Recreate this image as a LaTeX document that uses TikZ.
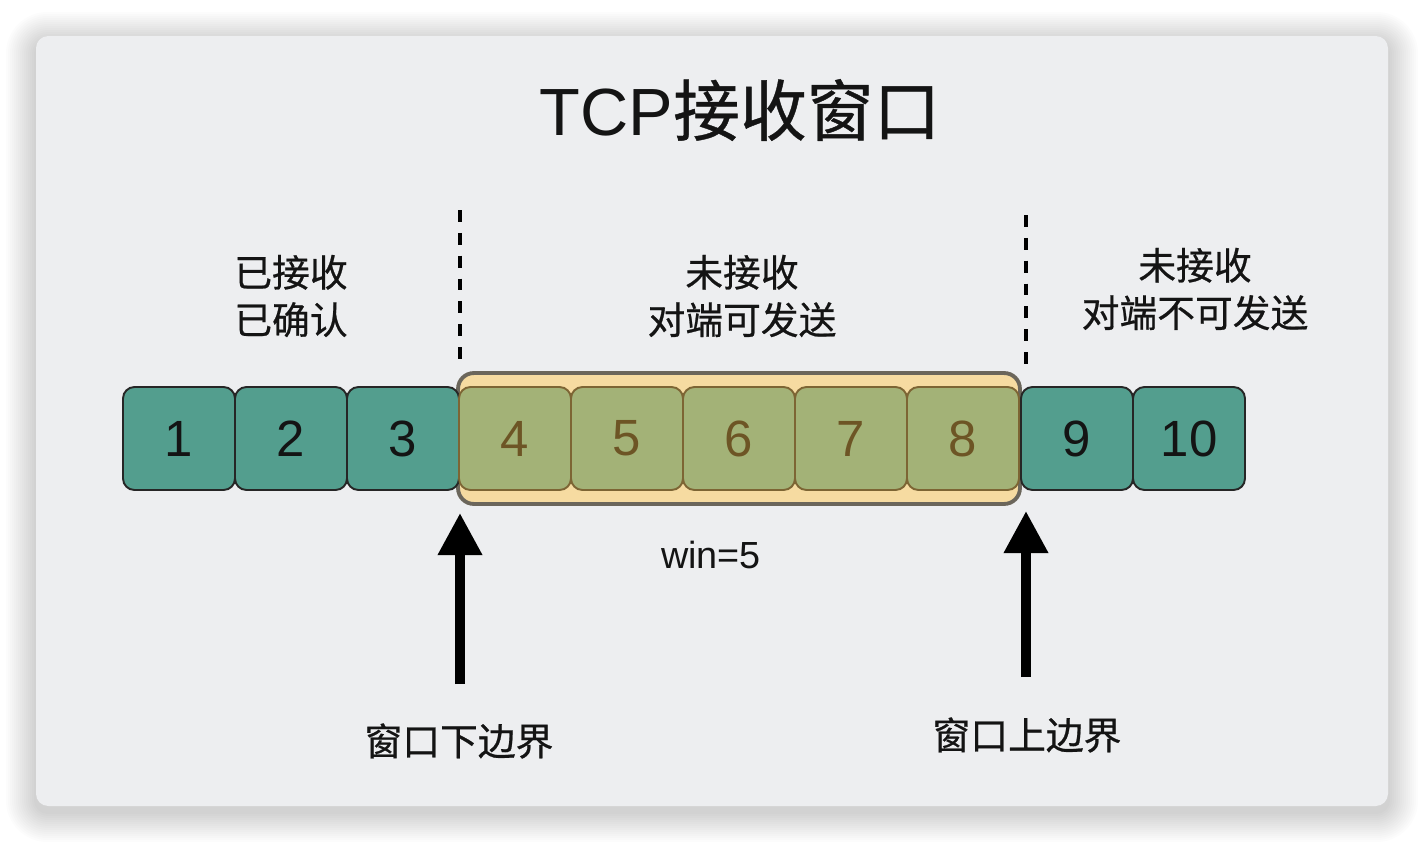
\documentclass[tikz,border=0pt]{standalone}
\usepackage{fontspec}
\setmainfont{Liberation Sans}
\newfontfamily\cjk{Noto Sans CJK SC}[FakeBold=0.6]
\usetikzlibrary{arrows.meta,backgrounds,fit,positioning}
\definecolor{rwCard}{HTML}{EDEEF0}
\definecolor{rwTeal}{HTML}{539E8E}
\definecolor{rwOlive}{HTML}{A3B277}
\definecolor{rwOliveLine}{HTML}{7D6534}
\definecolor{rwOliveText}{HTML}{6D5525}
\definecolor{rwWin}{HTML}{F6DBA1}
\definecolor{rwWinLine}{HTML}{6B665B}

\begin{document}
\begin{tikzpicture}[
  x=0.02cm,y=-0.02cm,
  every node/.style={font=\fontsize{21.5}{27}\selectfont,align=center,text=black!92},
  cell/.style={draw=black!85,line width=1.1pt,fill=rwTeal,rounded corners=6.5pt,
    minimum width=2.24cm,minimum height=2.06cm,inner sep=0pt,
    font=\fontsize{29}{30}\selectfont},
  wincell/.style={cell,draw=rwOliveLine,fill=rwOlive,text=rwOliveText},
  window/.style={draw=rwWinLine,line width=2.2pt,fill=rwWin,rounded corners=9pt,
    inner xsep=0pt,inner ysep=7.4pt},
  bound/.style={line width=2.4pt,dash pattern=on 6.8pt off 6.2pt},
  pointer/.style={-{Triangle[length=24pt,width=24pt]},line width=5.6pt}
]
  \useasboundingbox (0,0) rectangle (1424,842);
  % card and its soft shadow
  \begin{scope}[on background layer]
    \foreach \k [evaluate=\k as \r using 7+1.1*\k] in {1,...,15}
      \fill[black,opacity=0.013,rounded corners=\r pt]
        (36-2*\k,42-2*\k) rectangle (1388+2*\k,812+2*\k);
    \fill[rwCard,rounded corners=7pt] (36,36) rectangle (1388,806);
  \end{scope}

  \node[font=\fontsize{38}{40}\selectfont] (title) at (740,110) {TCP{\cjk 接收窗口}};

  % segments
  \foreach \n/\x in {1/179,2/291,3/403}
    \node[cell] (b\n) at (\x,438.5) {\n};
  \foreach \n/\x in {4/515,5/627,6/739,7/851,8/963}
    \node[wincell] (b\n) at (\x,438.5) {\n};
  \foreach \n/\x in {9/1077,10/1189}
    \node[cell] (b\n) at (\x,438.5) {\n};

  \begin{scope}[on background layer]
    \node[window,fit=(b4)(b8)] (win) {};
  \end{scope}

  \draw[bound] (460,210) -- (460,362);
  \draw[bound] (1026,215) -- (1026,370);

  \node[font=\cjk\fontsize{21.5}{27}\selectfont] (acked) at (291,296) {已接收\\已确认};
  \node[font=\cjk\fontsize{21.5}{27}\selectfont] (sendok) at (742,296) {未接收\\对端可发送};
  \node[font=\cjk\fontsize{21.5}{27}\selectfont] (sendno) at (1195,289) {未接收\\对端不可发送};
  \node (wsize) at (711,555) {win=5};

  \node[font=\cjk\fontsize{21.5}{27}\selectfont] (lowlab) at (459,741) {窗口下边界};
  \node[font=\cjk\fontsize{21.5}{27}\selectfont] (uplab) at (1027,735) {窗口上边界};
  \coordinate (lowtail) at (460,684);
  \coordinate (lowtip) at (460,513);
  \coordinate (uptail) at (1026,677);
  \coordinate (uptip) at (1026,511);
  \draw[pointer] (lowtail) -- (lowtip);
  \draw[pointer] (uptail) -- (uptip);
\end{tikzpicture}
\end{document}
